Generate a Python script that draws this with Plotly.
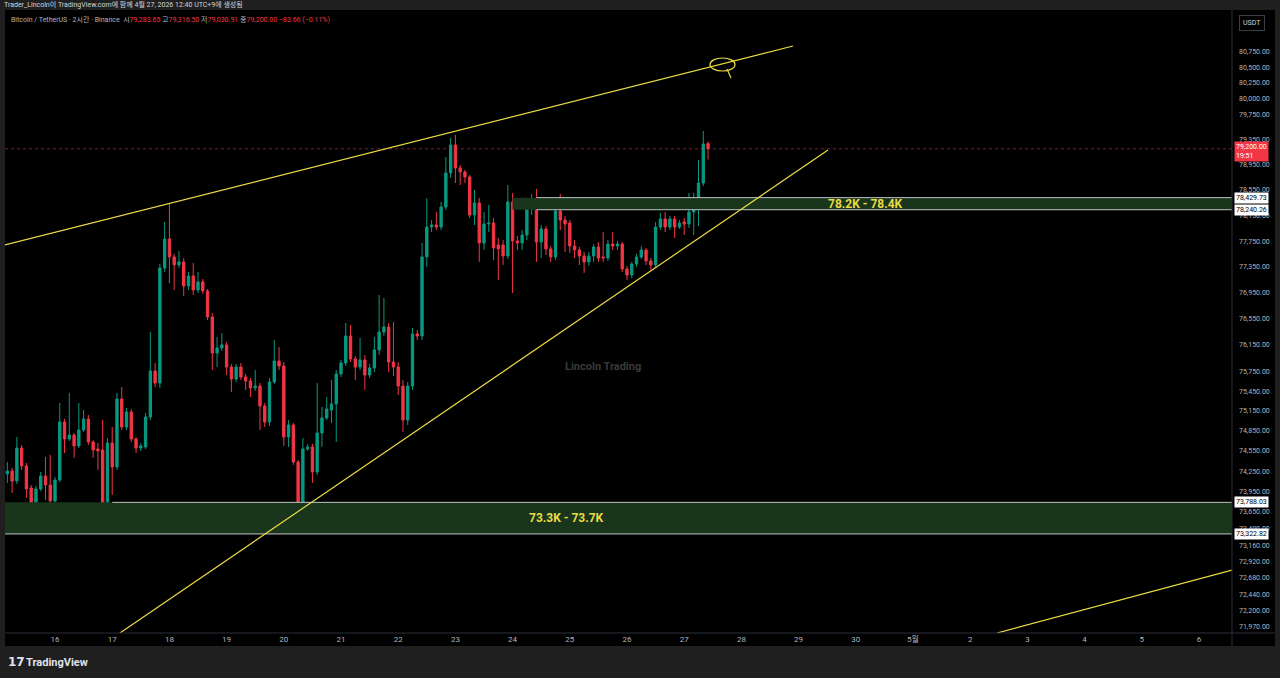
import numpy as np
import pandas as pd
import plotly.graph_objects as go

# ---------------- data (BTC/USDT, 2h candles) ----------------
opens = [74208, 74253, 74104, 74596, 74328, 74001, 73705, 73986, 74179, 74045,
         73808, 74119, 74985, 74730, 74790, 74626, 74865, 75030, 74685, 74581,
         74566, 73764, 74670, 74313, 75331, 74910, 75135, 74730, 74596, 74611,
         75060, 75754, 75573, 77333, 77783, 77504, 77380, 77426, 77055, 77209,
         76993, 77116, 76978, 76578, 76028, 76104, 76150, 75815, 75633, 75815,
         75663, 75603, 75497, 75527, 75225, 74985, 75588, 75907, 75830, 74760,
         74940, 74387, 73764, 74581, 74611, 74238, 74820, 75045, 75165, 75256,
         75709, 75876, 76287, 75937, 75815, 75922, 75694, 75800, 76074, 76348,
         76425, 75891, 75815, 75527, 75015, 75527, 76318, 76287, 77504, 77970,
         78001, 77970, 78283, 78818, 79261, 78897, 78834, 78755, 78158, 78346,
         77721, 78017, 78032, 77690, 77690, 77519, 78362, 77752, 77721, 77845,
         78252, 78409, 77736, 77939, 77628, 77504, 78220, 78079, 78032, 77674,
         77612, 77519, 77426, 77519, 77659, 77504, 77488, 77705, 77674, 77705,
         77318, 77225, 77395, 77504, 77612, 77442, 77380, 77970, 78095, 77970,
         78095, 77970, 78048, 78017, 78205, 78409, 78660, 79283.65]
highs = [74387, 74298, 74760, 74640, 74372, 74045, 74030, 74238, 74462, 74492,
         74164, 75271, 75030, 75422, 74820, 75271, 75165, 75090, 74715, 74670,
         75015, 74745, 74910, 75422, 75512, 75195, 75180, 74760, 74670, 75120,
         76348, 75876, 77395, 78048, 78346, 77550, 77597, 77488, 77271, 77411,
         77271, 77163, 77008, 76639, 76272, 76333, 76196, 75861, 75861, 75876,
         75709, 75648, 75769, 75573, 75271, 75648, 76226, 76120, 75891, 75015,
         74970, 74417, 74745, 74655, 74655, 75573, 75210, 75361, 75618, 75769,
         75922, 76486, 76455, 75983, 76257, 75998, 75861, 76272, 76916, 76870,
         76486, 76501, 75891, 75618, 75588, 76409, 76379, 77721, 78424, 78079,
         78205, 78362, 79070, 79372, 79420, 78944, 78865, 78786, 78550, 78424,
         78205, 78314, 78110, 77798, 77767, 78628, 78503, 77830, 77923, 78314,
         78487, 78566, 78001, 77985, 77674, 78267, 78487, 78142, 78079, 77767,
         77659, 77581, 77581, 77705, 77736, 77892, 77767, 77892, 77752, 77736,
         77364, 77426, 77550, 77674, 77643, 77488, 78048, 78189, 78205, 78142,
         78142, 78079, 78110, 78503, 78503, 79023, 79483, 79316.50]
lows = [74075, 73927, 74060, 74268, 73853, 73484, 73646, 73956, 73823, 73558,
        73779, 74089, 74521, 74700, 74447, 74596, 74835, 74640, 74447, 74268,
        73337, 73425, 73897, 74268, 74865, 74865, 74685, 74521, 74551, 74581,
        75015, 75512, 75497, 77271, 77101, 76993, 77333, 76901, 76993, 76916,
        76947, 76932, 76532, 75769, 75815, 76059, 75694, 75437, 75588, 75618,
        75467, 75361, 75452, 74865, 74910, 74925, 75558, 75769, 74626, 74611,
        74343, 73705, 73705, 74551, 74075, 74193, 74611, 75015, 74970, 74685,
        75663, 75830, 75891, 75618, 75769, 75467, 75648, 75739, 75998, 76287,
        75739, 75679, 75391, 74835, 74940, 75467, 76226, 76226, 77349, 77892,
        77923, 77923, 78236, 78739, 78660, 78628, 78660, 78110, 78001, 77426,
        77612, 77892, 77457, 77147, 77380, 77472, 76947, 77612, 77612, 77767,
        78158, 77426, 77488, 77535, 77426, 77457, 77923, 77581, 77566, 77488,
        77380, 77256, 77364, 77426, 77426, 77426, 77442, 77612, 77612, 77271,
        77147, 77178, 77349, 77472, 77380, 77302, 77333, 77923, 77892, 77923,
        77798, 77939, 77845, 77954, 77845, 77985, 78612, 79030.91]
closes = [74253, 74104, 74596, 74328, 73986, 73705, 73986, 74179, 74045, 73808,
          74119, 74985, 74730, 74790, 74626, 74865, 75030, 74685, 74566, 74551,
          73764, 74670, 74313, 75331, 74910, 75135, 74730, 74596, 74626, 75060,
          75754, 75573, 77333, 77783, 77504, 77380, 77426, 77055, 77209, 76993,
          77116, 76978, 76578, 76028, 76104, 76150, 75815, 75633, 75815, 75663,
          75603, 75497, 75527, 75225, 74985, 75588, 75907, 75830, 74760, 74940,
          74387, 73764, 74581, 74611, 74238, 74820, 75045, 75180, 75256, 75709,
          75876, 76287, 75937, 75815, 75922, 75694, 75800, 76074, 76348, 76425,
          75891, 75815, 75527, 75015, 75527, 76318, 76287, 77504, 77970, 78001,
          77970, 78283, 78818, 79261, 78897, 78834, 78755, 78158, 78346, 77721,
          78017, 78032, 77643, 77628, 77519, 78362, 77752, 77721, 77845, 78252,
          78409, 77736, 77939, 77628, 77504, 78220, 78079, 78017, 77674, 77612,
          77519, 77426, 77519, 77659, 77488, 77488, 77705, 77674, 77705, 77318,
          77225, 77395, 77504, 77612, 77442, 77380, 77970, 78095, 77970, 78095,
          77970, 78032, 78017, 78205, 78409, 78660, 79277, 79200.00]

first_bar = "2026-04-15 04:00"
times = pd.date_range(first_bar, periods=len(opens), freq="2h")

# price axis ticks
y_ticks = [71970, 72200, 72440, 72680, 72920, 73160, 73400, 73650, 73950, 74250,
           74550, 74850, 75150, 75450, 75750, 76150, 76550, 76950, 77350, 77750,
           78150, 78550, 78950, 79350, 79750, 80000, 80250, 80500, 80750]
# time axis ticks
x_tick_dates = list(pd.date_range("2026-04-16", "2026-05-06", freq="D"))
x_tick_text = [str(d.day) if not (d.month == 5 and d.day == 1) else "5월" for d in x_tick_dates]

# zones (support / resistance boxes)
zone_hi_top, zone_hi_bot = 78429.73, 78240.26
zone_lo_top, zone_lo_bot = 73788.03, 73322.82
zone_hi_start = "2026-04-24 00:00"
zone_hi_line_start = "2026-04-24 10:00"
zone_lo_line_start = "2026-04-17 00:00"

# trend lines (time, price)
upper_trend_t = ["2026-04-15 03:00", "2026-04-28 21:40"]
upper_trend_p = [77690, 80847]
lower_trend_t = ["2026-04-17 03:15", "2026-04-29 12:20"]
lower_trend_p = [71883, 79181]
far_trend_t = ["2026-05-02 11:15", "2026-05-06 13:51"]
far_trend_p = [71883, 72795]

last_price = 79200.00

x_range = ["2026-04-15 03:01", "2026-05-06 13:51"]
y_range_price = [71883, 81432]

# ---------------- styling ----------------
UP = "#089981"
DOWN = "#f23645"
YEL = "#eadb45"
ZONE_FILL = "#19351c"
ZONE_LINE = "#bfc2c6"
AX_TXT = "#b2b5be"
FRAME = "#1f1f1f"
FONT = "Roboto, 'Noto Sans CJK KR', sans-serif"

W, H = 1280, 678
PL, PR, PT, PB = 5, 1232, 10, 633  # plot area in pixels


def xp(px):
    return (px - PL) / (PR - PL)


def yp(py):
    return (PB - py) / (PB - PT)


fig = go.Figure()

# zones
def zone(t0, top, bot):
    t1 = x_range[1]
    fig.add_trace(go.Scatter(x=[t0, t1, t1, t0, t0], y=[bot, bot, top, top, bot],
                             mode="lines", fill="toself", fillcolor=ZONE_FILL,
                             line=dict(width=0), hoverinfo="skip", showlegend=False))

zone(zone_hi_start, zone_hi_top, zone_hi_bot)
zone(x_range[0], zone_lo_top, zone_lo_bot)

for t0, p in [(zone_hi_line_start, zone_hi_top), (zone_hi_line_start, zone_hi_bot),
              (zone_lo_line_start, zone_lo_top), (x_range[0], zone_lo_bot)]:
    fig.add_trace(go.Scatter(x=[t0, x_range[1]], y=[p, p], mode="lines",
                             line=dict(color=ZONE_LINE, width=1),
                             hoverinfo="skip", showlegend=False))

# last price dotted line
fig.add_trace(go.Scatter(x=x_range, y=[last_price, last_price], mode="lines",
                         line=dict(color="rgba(242,54,69,0.55)", width=1, dash="dot"),
                         hoverinfo="skip", showlegend=False))

# candles
fig.add_trace(go.Candlestick(
    x=times, open=opens, high=highs, low=lows, close=closes,
    increasing=dict(line=dict(color=UP, width=1), fillcolor=UP),
    decreasing=dict(line=dict(color=DOWN, width=1), fillcolor=DOWN),
    whiskerwidth=0, hoverinfo="skip", showlegend=False))

# trend lines
for tt, pp in [(upper_trend_t, upper_trend_p), (lower_trend_t, lower_trend_p), (far_trend_t, far_trend_p)]:
    fig.add_trace(go.Scatter(x=tt, y=pp, mode="lines", line=dict(color=YEL, width=1.2),
                             hoverinfo="skip", showlegend=False))

shapes = []
# frame around the chart
for x0, x1, y0, y1 in [(-0.01, 1.05, yp(PT), yp(-5)),
                       (-0.01, xp(5), yp(700), yp(-5)),
                       (xp(1275), 1.05, yp(700), yp(-5)),
                       (-0.01, 1.05, yp(700), yp(646))]:
    shapes.append(dict(type="rect", xref="paper", yref="paper", x0=x0, x1=x1, y0=y0, y1=y1,
                       fillcolor=FRAME, line=dict(width=0), layer="above"))
# hand drawn ellipse at the top line
shapes.append(dict(type="circle", xref="paper", yref="paper", x0=xp(710), x1=xp(735),
                   y0=yp(71), y1=yp(58), line=dict(color=YEL, width=1.2)))
shapes.append(dict(type="line", xref="paper", yref="paper", x0=xp(727), x1=xp(731),
                   y0=yp(69), y1=yp(78), line=dict(color=YEL, width=1.2)))
# axis separator lines
shapes.append(dict(type="line", xref="paper", yref="paper", x0=0, x1=xp(1275), y0=0, y1=0,
                   line=dict(color="#2a2e39", width=1)))
shapes.append(dict(type="line", xref="paper", yref="paper", x0=1, x1=1, y0=yp(646), y1=1,
                   line=dict(color="#2a2e39", width=1)))

ann = []
# header
ann.append(dict(xref="paper", yref="paper", x=xp(2), y=yp(5), xanchor="left", yanchor="middle",
                text="Trader_Lincoln이 TradingView.com에 함께 4월 27, 2026 12:40 UTC+9에 생성됨",
                showarrow=False, font=dict(size=7, color="#d1d4dc", family=FONT)))
red = lambda s: f"<span style='color:{DOWN}'>{s}</span>"
ann.append(dict(xref="paper", yref="paper", x=xp(9), y=yp(20), xanchor="left", yanchor="middle",
                text="Bitcoin / TetherUS · 2시간 · Binance  시" + red(f"{opens[-1]:,.2f}") +
                     " 고" + red(f"{highs[-1]:,.2f}") + " 저" + red(f"{lows[-1]:,.2f}") +
                     " 종" + red(f"{closes[-1]:,.2f}") + " " + red("−83.66 (−0.11%)"),
                showarrow=False, font=dict(size=7, color="#b2b5be", family=FONT)))
# USDT box
ann.append(dict(xref="paper", yref="paper", x=xp(1239), y=yp(23), xanchor="left", yanchor="middle",
                text="USDT", showarrow=False, bgcolor="#000000", bordercolor="#3a3e49",
                borderwidth=1, borderpad=3, font=dict(size=7, color="#d1d4dc", family=FONT)))
# price labels on axis
def plabel(price, text, bg, fg, shift=0):
    ann.append(dict(xref="paper", yref="y", x=1, xshift=2, y=np.log10(price), yshift=shift,
                    xanchor="left", yanchor="middle", text=text, showarrow=False,
                    bgcolor=bg, borderpad=1, align="left",
                    font=dict(size=7, color=fg, family=FONT)))

plabel(last_price, f"{last_price:,.2f}<br>19:51", DOWN, "#ffffff", shift=-3)
plabel(zone_hi_top, f"{zone_hi_top:,.2f}", "#ffffff", "#000000")
plabel(zone_hi_bot, f"{zone_hi_bot:,.2f}", "#ffffff", "#000000")
plabel(zone_lo_top, f"{zone_lo_top:,.2f}", "#ffffff", "#000000")
plabel(zone_lo_bot, f"{zone_lo_bot:,.2f}", "#ffffff", "#000000")

# zone labels
ann.append(dict(x="2026-04-30 04:15", y=np.log10((zone_hi_top + zone_hi_bot) / 2),
                text="<b>78.2K - 78.4K</b>", showarrow=False,
                font=dict(size=12, color=YEL, family=FONT)))
ann.append(dict(x="2026-04-24 22:25", y=np.log10(73560),
                text="<b>73.3K - 73.7K</b>", showarrow=False,
                font=dict(size=12, color=YEL, family=FONT)))
# watermark
ann.append(dict(xref="paper", yref="paper", x=xp(603), y=yp(366), text="<b>Lincoln Trading</b>",
                showarrow=False, font=dict(size=11, color="#3a3a3a", family=FONT)))
# TradingView logo text
ann.append(dict(xref="paper", yref="paper", x=xp(6), y=yp(662), xanchor="left", yanchor="middle",
                text="<b>17</b>", showarrow=False,
                font=dict(size=12, color="#e0e3eb", family="DejaVu Sans")))
ann.append(dict(xref="paper", yref="paper", x=xp(24), y=yp(662), xanchor="left", yanchor="middle",
                text="<b>TradingView</b>", showarrow=False,
                font=dict(size=11, color="#e0e3eb", family=FONT)))

fig.update_layout(
    width=W, height=H,
    margin=dict(l=PL, r=W - PR, t=PT, b=H - PB, pad=0),
    paper_bgcolor="#000000", plot_bgcolor="#000000",
    showlegend=False, hovermode=False,
    shapes=shapes, annotations=ann,
    font=dict(family=FONT, color=AX_TXT),
    xaxis=dict(type="date", range=x_range, rangeslider=dict(visible=False),
               tickvals=x_tick_dates, ticktext=x_tick_text, showgrid=False, zeroline=False,
               ticks="", showline=False, tickfont=dict(size=8, color=AX_TXT)),
    yaxis=dict(type="log", range=[np.log10(y_range_price[0]), np.log10(y_range_price[1])],
               side="right", tickvals=y_ticks, ticktext=[f"{v:,.2f}" for v in y_ticks],
               showgrid=False, zeroline=False, ticks="", showline=False,
               ticklabelstandoff=6, tickfont=dict(size=7, color=AX_TXT)),
)

fig.write_html("out.html")
